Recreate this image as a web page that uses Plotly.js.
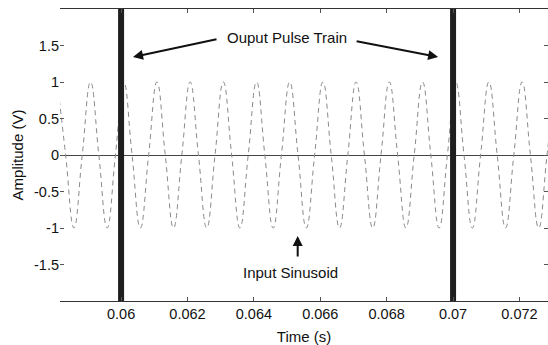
<!DOCTYPE html>
<html>
<head>
<meta charset="utf-8">
<script src="https://cdn.plot.ly/plotly-3.0.1.min.js"></script>
<style>html,body{margin:0;padding:0;background:#fff;}#chart{width:548px;height:345px;}</style>
</head>
<body>
<div id="chart"></div>
<script>
// Input sinusoid, read at peaks, zero crossings and troughs (s, V)
const sinTime = [
  0.05808, 0.05833, 0.05858, 0.05883,
  0.05908, 0.05933, 0.05958, 0.05983,
  0.06008, 0.06033, 0.06058, 0.06083,
  0.06108, 0.06133, 0.06158, 0.06183,
  0.06208, 0.06233, 0.06258, 0.06283,
  0.06308, 0.06333, 0.06358, 0.06383,
  0.06408, 0.06433, 0.06458, 0.06483,
  0.06508, 0.06533, 0.06558, 0.06583,
  0.06608, 0.06633, 0.06658, 0.06683,
  0.06708, 0.06733, 0.06758, 0.06783,
  0.06808, 0.06833, 0.06858, 0.06883,
  0.06908, 0.06933, 0.06958, 0.06983,
  0.07008, 0.07033, 0.07058, 0.07083,
  0.07108, 0.07133, 0.07158, 0.07183,
  0.07208, 0.07233, 0.07258, 0.07283,
  0.07308
];
const sinAmp = [
  1, 0, -1, 0,
  1, 0, -1, 0,
  1, 0, -1, 0,
  1, 0, -1, 0,
  1, 0, -1, 0,
  1, 0, -1, 0,
  1, 0, -1, 0,
  1, 0, -1, 0,
  1, 0, -1, 0,
  1, 0, -1, 0,
  1, 0, -1, 0,
  1, 0, -1, 0,
  1, 0, -1, 0,
  1, 0, -1, 0,
  1, 0, -1, 0,
  1
];
// Output pulse train
const pulseTimes = [0.06, 0.07];
const pulseLow = -2;
const pulseHigh = 2;

// Axis ticks
const xTickVals = [0.06, 0.062, 0.064, 0.066, 0.068, 0.07, 0.072];
const xTickText = ['0.06', '0.062', '0.064', '0.066', '0.068', '0.07', '0.072'];
const yTickVals = [-1.5, -1, -0.5, 0, 0.5, 1, 1.5];
const yTickText = ['-1.5', '-1', '-0.5', '0', '0.5', '1', '1.5'];

const traces = [{
  x: sinTime, y: sinAmp, type: 'scatter', mode: 'lines',
  line: {color: '#8a8a8a', width: 1, dash: '5px,4px', shape: 'spline', smoothing: 1.3},
  hoverinfo: 'skip', showlegend: false
}];
pulseTimes.forEach(t => {
  traces.push({
    x: [t, t], y: [pulseLow, pulseHigh], type: 'scatter', mode: 'lines',
    line: {color: '#1e1e1e', width: 6},
    hoverinfo: 'skip', showlegend: false
  });
});

const fam = '"Liberation Sans", Arial, sans-serif';
const tickFont = {family: fam, size: 14.5, color: '#111'};
const titleFont = {family: fam, size: 15, color: '#111'};
const arrowColor = '#111';

const layout = {
  width: 548, height: 345,
  margin: {l: 60, r: 0, t: 9, b: 44},
  paper_bgcolor: '#fff', plot_bgcolor: '#fff',
  font: tickFont,
  showlegend: false,
  xaxis: {
    range: [0.05816, 0.07286],
    tickvals: xTickVals, ticktext: xTickText, tickfont: tickFont,
    ticks: 'inside', ticklen: 4, tickcolor: '#555',
    showline: true, linecolor: '#333', linewidth: 1, mirror: 'ticks',
    showgrid: false, zeroline: false,
    title: {text: 'Time (s)', font: titleFont, standoff: 10}
  },
  yaxis: {
    range: [-2, 2],
    tickvals: yTickVals, ticktext: yTickText, tickfont: tickFont,
    ticks: 'inside', ticklen: 4, tickcolor: '#555',
    showline: false, mirror: 'ticks',
    showgrid: false,
    zeroline: true, zerolinecolor: '#444', zerolinewidth: 1,
    title: {text: 'Amplitude (V)', font: titleFont, standoff: 6}
  },
  annotations: [
    {x: 0.065, y: 1.616, xref: 'x', yref: 'y', text: 'Ouput Pulse Train', showarrow: false,
     font: titleFont},
    {x: 0.06036, y: 1.342, ax: 0.06292, ay: 1.589, xref: 'x', yref: 'y', axref: 'x', ayref: 'y',
     text: '', showarrow: true, arrowhead: 2, arrowsize: 1, arrowwidth: 2, arrowcolor: arrowColor},
    {x: 0.06955, y: 1.342, ax: 0.06705, ay: 1.562, xref: 'x', yref: 'y', axref: 'x', ayref: 'y',
     text: '', showarrow: true, arrowhead: 2, arrowsize: 1, arrowwidth: 2, arrowcolor: arrowColor},
    {x: 0.06511, y: -1.61, xref: 'x', yref: 'y', text: 'Input Sinusoid', showarrow: false,
     font: titleFont},
    {x: 0.06532, y: -1.11, ax: 0.06532, ay: -1.41, xref: 'x', yref: 'y', axref: 'x', ayref: 'y',
     text: '', showarrow: true, arrowhead: 2, arrowsize: 1, arrowwidth: 2, arrowcolor: arrowColor}
  ]
};

Plotly.newPlot('chart', traces, layout, {displayModeBar: false, staticPlot: true});
</script>
</body>
</html>
